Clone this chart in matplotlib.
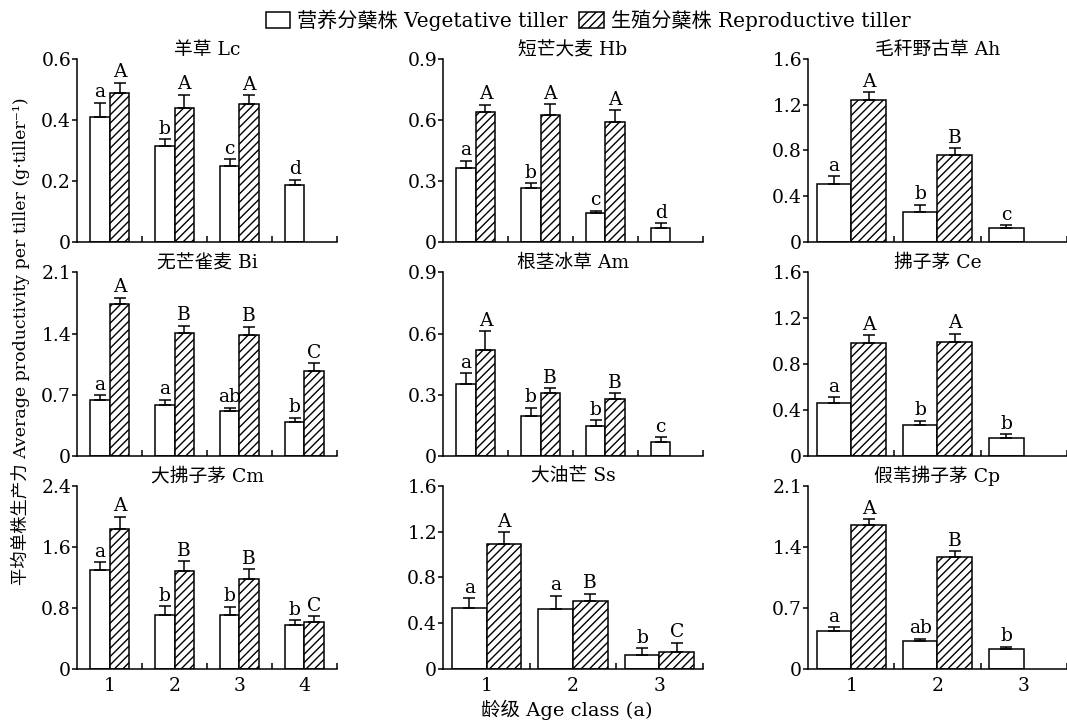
import matplotlib
matplotlib.use("Agg")
import matplotlib.pyplot as plt
from matplotlib.patches import Patch
from matplotlib.ticker import FixedLocator, NullFormatter
import numpy as np

plt.rcParams["font.family"] = ["DejaVu Serif", "Noto Sans CJK SC"]
plt.rcParams["hatch.linewidth"] = 1.0
plt.rcParams["axes.linewidth"] = 1.1

# Per-species means, upward SE and significance letters
# (veg = vegetative tiller, rep = reproductive tiller; None = no bar)
titles = ["羊草 Lc", "短芒大麦 Hb", "毛秆野古草 Ah",
          "无芒雀麦 Bi", "根茎冰草 Am", "拂子茅 Ce",
          "大拂子茅 Cm", "大油芒 Ss", "假苇拂子茅 Cp"]

n_groups = [4, 4, 3,
            4, 4, 3,
            4, 3, 3]

y_max = [0.6, 0.9, 1.6,
         2.1, 0.9, 1.6,
         2.4, 1.6, 2.1]

y_step = [0.2, 0.3, 0.4,
          0.7, 0.3, 0.4,
          0.8, 0.4, 0.7]

veg_mean = [[0.411, 0.314, 0.250, 0.188],
            [0.365, 0.263, 0.140, 0.068],
            [0.510, 0.262, 0.119],
            [0.640, 0.579, 0.511, 0.393],
            [0.354, 0.196, 0.147, 0.070],
            [0.465, 0.267, 0.154],
            [1.291, 0.702, 0.707, 0.572],
            [0.529, 0.521, 0.119],
            [0.435, 0.321, 0.229]]

veg_err = [[0.046, 0.024, 0.021, 0.016],
           [0.035, 0.025, 0.013, 0.023],
           [0.064, 0.064, 0.026],
           [0.053, 0.065, 0.042, 0.046],
           [0.051, 0.041, 0.028, 0.021],
           [0.046, 0.041, 0.038],
           [0.105, 0.118, 0.109, 0.070],
           [0.087, 0.119, 0.061],
           [0.042, 0.027, 0.027]]

veg_sig = [["a", "b", "c", "d"],
           ["a", "b", "c", "d"],
           ["a", "b", "c"],
           ["a", "a", "ab", "b"],
           ["a", "b", "b", "c"],
           ["a", "b", "b"],
           ["a", "b", "b", "b"],
           ["a", "a", "b"],
           ["a", "ab", "b"]]

rep_mean = [[0.489, 0.441, 0.453, None],
            [0.640, 0.627, 0.591, None],
            [1.245, 0.764, None],
            [1.738, 1.410, 1.380, 0.972],
            [0.519, 0.307, 0.281, None],
            [0.987, 0.996, None],
            [1.833, 1.283, 1.182, 0.620],
            [1.091, 0.593, 0.151],
            [1.653, 1.279, None]]

rep_err = [[0.034, 0.042, 0.029, None],
           [0.036, 0.051, 0.059, None],
           [0.064, 0.055, None],
           [0.072, 0.080, 0.099, 0.088],
           [0.092, 0.025, 0.026, None],
           [0.064, 0.070, None],
           [0.161, 0.127, 0.127, 0.074],
           [0.105, 0.064, 0.079],
           [0.065, 0.073, None]]

rep_sig = [["A", "A", "A", None],
           ["A", "A", "A", None],
           ["A", "B", None],
           ["A", "B", "B", "C"],
           ["A", "B", "B", None],
           ["A", "A", None],
           ["A", "B", "B", "C"],
           ["A", "B", "C"],
           ["A", "B", None]]

age_labels = ["1", "2", "3", "4"]

col_left = [0.0725, 0.4155, 0.7575]
col_width = [0.2431, 0.2431, 0.2422]
row_bottom = [0.6657, 0.3693, 0.0747]
row_height = [0.2523, 0.2541, 0.2535]

HATCH = "////"

fig = plt.figure(figsize=(10.67, 7.23), dpi=100)

BAR_KW = dict(edgecolor="black", linewidth=1.1, zorder=2)
ERR_KW = dict(fmt="none", ecolor="black", elinewidth=1.1, capsize=4,
              capthick=1.1, zorder=3)


def draw_series(ax, xs, means, errs, sigs, w, hatch):
    for x, m, e, s in zip(xs, means, errs, sigs):
        if m is None:
            continue
        ax.bar(x, m, width=w, facecolor="white", hatch=hatch, **BAR_KW)
        ax.errorbar(x, m, yerr=[[0], [e]], **ERR_KW)
        ax.annotate(s, (x, m + e), xytext=(0, 1), textcoords="offset points",
                    ha="center", va="bottom", fontsize=13.5)


for i in range(9):
    r, c = divmod(i, 3)
    ax = fig.add_axes([col_left[c], row_bottom[r], col_width[c], row_height[r]])
    n = n_groups[i]
    w = 1.2 / n
    centers = np.arange(n) + 0.5

    draw_series(ax, centers - w / 2, veg_mean[i], veg_err[i], veg_sig[i], w, None)
    draw_series(ax, centers + w / 2, rep_mean[i], rep_err[i], rep_sig[i], w, HATCH)

    ax.set_xlim(0, n)
    ax.set_ylim(0, y_max[i])
    yt = np.arange(0, y_max[i] + 1e-9, y_step[i])
    ax.set_yticks(yt)
    ax.set_yticklabels(["0"] + [f"{v:.1f}" for v in yt[1:]])

    ax.xaxis.set_major_locator(FixedLocator(centers))
    ax.xaxis.set_minor_locator(FixedLocator(np.arange(1, n + 1)))
    ax.xaxis.set_minor_formatter(NullFormatter())
    if r == 2:
        ax.set_xticklabels(age_labels[:n])
    else:
        ax.set_xticklabels([])
    ax.tick_params(axis="x", which="major", length=0, labelsize=13.5, pad=6)
    ax.tick_params(axis="x", which="minor", direction="in", length=4, width=1.1)
    ax.tick_params(axis="y", direction="out", length=3.5, width=1.1,
                   labelsize=13.5, pad=1)

    for side in ("top", "right"):
        ax.spines[side].set_visible(False)

    ax.set_title(titles[i], fontsize=13.5, pad=1)

fig.text(0.019, 0.528, "平均单株生产力 Average productivity per tiller (g·tiller⁻¹)",
         rotation=90, ha="center", va="center", fontsize=12.5)
fig.text(0.531, 0.018, "龄级 Age class (a)", ha="center", va="center",
         fontsize=14)

handles = [Patch(facecolor="white", edgecolor="black", linewidth=1.1,
                 label="营养分蘖株 Vegetative tiller"),
           Patch(facecolor="white", edgecolor="black", linewidth=1.1, hatch=HATCH,
                 label="生殖分蘖株 Reproductive tiller")]
fig.legend(handles=handles, loc="center", bbox_to_anchor=(0.551, 0.972), ncol=2,
           frameon=False, fontsize=14.5, handlelength=1.2, handleheight=0.9,
           handletextpad=0.35, columnspacing=0.6, borderpad=0.1)

fig.savefig("out.png", dpi=100)
